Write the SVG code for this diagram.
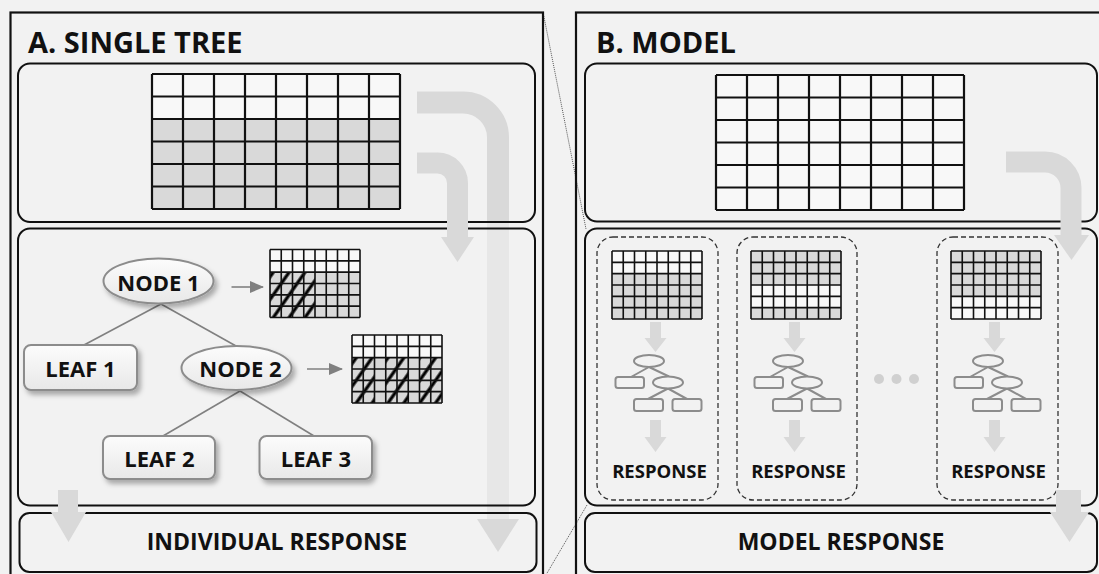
<svg xmlns="http://www.w3.org/2000/svg" xmlns:xlink="http://www.w3.org/1999/xlink" width="1099" height="574" viewBox="0 0 1099 574">
  <style>
    .panel { fill: none; stroke: #111; stroke-width: 2.2; }
    .box { fill: none; stroke: #111; stroke-width: 2; }
    .title { font-family: "Open Sans", "Liberation Sans", sans-serif; font-weight: 700; font-size: 29px; fill: #111; }
    .label { font-family: "Open Sans", "Liberation Sans", sans-serif; font-weight: 700; font-size: 22px; fill: #111; text-anchor: middle; }
    .resp { font-family: "Open Sans", "Liberation Sans", sans-serif; font-weight: 700; font-size: 23px; fill: #111; text-anchor: middle; }
    .small { font-family: "Open Sans", "Liberation Sans", sans-serif; font-weight: 700; font-size: 18.5px; fill: #111; text-anchor: middle; }
    .flow { fill: none; stroke: #d9d9d9; }
    .head { fill: #d9d9d9; }
    .shape { fill: url(#nodeFill); stroke: #8c8c8c; stroke-width: 2; filter: url(#soft); }
    .edge { stroke: #808080; stroke-width: 1.6; fill: none; }
    .gl { fill: none; stroke: #111; stroke-width: 2.2; }
    .sgl { fill: none; stroke: #111; stroke-width: 1.6; }
    .wcell { fill: #f8f8f8; }
    .gcell { fill: #d9d9d9; }
    .hatch { fill: url(#hatchPat); }
    .mini { fill: #f2f2f2; stroke: #8c8c8c; stroke-width: 2; }
    .miniedge { stroke: #8c8c8c; stroke-width: 2; fill: none; }
    .dashbox { fill: none; stroke: #333; stroke-width: 1.3; stroke-dasharray: 5 3; }
    .callout { stroke: #555; stroke-width: 1; stroke-dasharray: 1 1; fill: none; }
  </style>
  <defs>
    <linearGradient id="nodeFill" x1="0" y1="0" x2="0" y2="1">
      <stop offset="0" stop-color="#fcfcfc"/>
      <stop offset="1" stop-color="#e8e8e8"/>
    </linearGradient>
    <filter id="soft" x="-20%" y="-30%" width="150%" height="180%">
      <feDropShadow dx="3" dy="4" stdDeviation="2.5" flood-color="#000" flood-opacity="0.3"/>
    </filter>
    <pattern id="hatchPat" width="13" height="13" patternUnits="userSpaceOnUse" patternTransform="rotate(35)">
      <line x1="3" y1="0" x2="3" y2="13" stroke="#000" stroke-width="3.2"/>
    </pattern>
    <marker id="tip" markerWidth="14" markerHeight="12" refX="13" refY="6" orient="auto" markerUnits="userSpaceOnUse">
      <path d="M0,0 L14,6 L0,12 z" fill="#808080"/>
    </marker>
    <!-- 8 x 6 lattice used by every small table -->
    <path id="sgridLines" class="sgl" d="M0,0V68M11.25,0V68M22.5,0V68M33.75,0V68M45,0V68M56.25,0V68M67.5,0V68M78.75,0V68M90,0V68M0,0H90M0,11.33H90M0,22.67H90M0,34H90M0,45.33H90M0,56.67H90M0,68H90"/>
    <!-- miniature tree drawn inside each dashed sample -->
    <g id="miniTree">
      <path class="head" d="M650,322H661V338H666.5L655.5,352L644.5,338H650Z"/>
      <path class="miniedge" d="M649,367L631,377M649,367L669,376.5M668,388.5L648,399M668,388.5L687,399"/>
      <ellipse class="mini" cx="649" cy="361" rx="15" ry="6"/>
      <rect class="mini" x="615.5" y="377" width="28.5" height="11" rx="2.5"/>
      <ellipse class="mini" cx="668" cy="382.5" rx="15" ry="6"/>
      <rect class="mini" x="634" y="399" width="29" height="12" rx="2.5"/>
      <rect class="mini" x="672.5" y="399" width="29" height="12" rx="2.5"/>
      <path class="head" d="M650,420H661V437H666.5L655.5,452L644.5,437H650Z"/>
      <text class="small" x="659.5" y="477.5">RESPONSE</text>
    </g>
  </defs>

  <rect width="1099" height="574" fill="#f2f2f2"/>

  <!-- zoom callout lines between the two panels -->
  <g id="callouts">
    <path class="callout" d="M543,12L586,229"/>
    <path class="callout" d="M587,505L543,580"/>
  </g>

  <!-- ===== Panel A: single tree ===== -->
  <g id="panel-a">
    <rect class="panel" x="10.5" y="12.5" width="532.5" height="600"/>
    <text class="title" x="28" y="53">A. SINGLE TREE</text>

    <!-- long flow arrow runs behind the stage boxes -->
    <path class="flow" stroke-width="22" d="M417,102.5H463A35,35 0 0 1 498,137.5V221"/>
    <path fill="#e7e7e7" d="M487,221H509V519H487Z"/>
    <path class="head" d="M477,519H519L498,552Z"/>

    <g id="a-data">
      <rect class="box" x="18" y="63.5" width="517" height="158.5" rx="12"/>
      <rect class="wcell" x="152" y="74" width="248" height="45"/>
      <rect class="gcell" x="152" y="119" width="248" height="90"/>
      <path class="gl" d="M152,74V209M183,74V209M214,74V209M245,74V209M276,74V209M307,74V209M338,74V209M369,74V209M400,74V209M152,74H400M152,96.5H400M152,119H400M152,141.5H400M152,164H400M152,186.5H400M152,209H400"/>
    </g>

    <g id="a-tree">
      <rect class="box" x="18" y="228.5" width="517" height="277" rx="12"/>
    </g>

    <g id="a-result">
      <rect class="box" x="19.5" y="513" width="517" height="59" rx="10"/>
      <text class="resp" x="277" y="550">INDIVIDUAL RESPONSE</text>
    </g>

    <!-- inner arrow into the tree stage -->
    <path class="flow" stroke-width="21" d="M417,163H437.5A20,20 0 0 1 457.5,183V237"/>
    <path class="head" d="M441,237H474L457.5,262Z"/>
    <!-- short arrow into the response -->
    <path class="head" d="M58,490H78V512H86L68.5,542L51,512H58Z"/>

    <g id="connectors">
      <path class="edge" d="M161,304L84,345"/>
      <path class="edge" d="M161,304L236,346"/>
      <path class="edge" d="M240,391L163,436"/>
      <path class="edge" d="M240,391L314,436"/>
      <path class="edge" d="M231.5,287H263" marker-end="url(#tip)"/>
      <path class="edge" d="M307,369H342" marker-end="url(#tip)"/>
    </g>

    <g id="node-1">
      <ellipse class="shape" cx="158.5" cy="281" rx="55" ry="22.5"/>
      <text class="label" x="158.5" y="291">NODE 1</text>
    </g>
    <g id="leaf-1">
      <rect class="shape" x="24" y="345" width="113" height="45" rx="7"/>
      <text class="label" x="80.5" y="377">LEAF 1</text>
    </g>
    <g id="node-2">
      <ellipse class="shape" cx="236.5" cy="368" rx="55" ry="22"/>
      <text class="label" x="240.5" y="377">NODE 2</text>
    </g>
    <g id="leaf-2">
      <rect class="shape" x="103" y="436" width="112" height="43" rx="7"/>
      <text class="label" x="159.5" y="467">LEAF 2</text>
    </g>
    <g id="leaf-3">
      <rect class="shape" x="259.5" y="436" width="112.5" height="43" rx="7"/>
      <text class="label" x="316" y="467">LEAF 3</text>
    </g>

    <g id="split-1">
      <rect class="wcell" x="270" y="249.5" width="90" height="22.67"/>
      <rect class="gcell" x="270" y="272.17" width="90" height="45.33"/>
      <rect class="hatch" x="270" y="272.17" width="45" height="45.33"/>
      <use href="#sgridLines" x="270" y="249.5"/>
    </g>
    <g id="split-2">
      <rect class="wcell" x="352" y="335" width="90" height="22.67"/>
      <rect class="gcell" x="352" y="357.67" width="90" height="45.33"/>
      <rect class="hatch" x="352" y="357.67" width="22.5" height="45.33"/>
      <rect class="hatch" x="385.75" y="357.67" width="22.5" height="45.33"/>
      <rect class="hatch" x="419.5" y="357.67" width="22.5" height="45.33"/>
      <use href="#sgridLines" x="352" y="335"/>
    </g>
  </g>

  <!-- ===== Panel B: model ===== -->
  <g id="panel-b">
    <rect class="panel" x="576" y="12.5" width="540" height="600"/>
    <text class="title" x="596" y="53">B. MODEL</text>

    <g id="b-data">
      <rect class="box" x="585" y="63.5" width="512" height="158" rx="12"/>
      <rect class="wcell" x="716" y="75" width="248" height="135"/>
      <path class="gl" d="M716,75V210M747,75V210M778,75V210M809,75V210M840,75V210M871,75V210M902,75V210M933,75V210M964,75V210M716,75H964M716,97.5H964M716,120H964M716,142.5H964M716,165H964M716,187.5H964M716,210H964"/>
    </g>

    <g id="b-ensemble">
      <rect class="box" x="585" y="228.5" width="512" height="277" rx="12"/>
    </g>

    <g id="sample-1">
      <rect class="dashbox" x="597" y="237" width="121" height="263" rx="16"/>
      <rect class="wcell" x="612" y="251" width="90" height="22.67"/>
      <rect class="gcell" x="612" y="273.67" width="90" height="45.33"/>
      <use href="#sgridLines" x="612" y="251"/>
      <use href="#miniTree"/>
    </g>
    <g id="sample-2">
      <rect class="dashbox" x="737" y="237" width="120" height="263" rx="16"/>
      <rect class="gcell" x="751" y="251" width="90" height="34"/>
      <rect class="wcell" x="751" y="285" width="90" height="22.67"/>
      <rect class="gcell" x="751" y="307.67" width="90" height="11.33"/>
      <use href="#sgridLines" x="751" y="251"/>
      <use href="#miniTree" x="139"/>
    </g>
    <g id="ellipsis">
      <circle cx="879" cy="379" r="5" fill="#d0d0d0"/>
      <circle cx="896.5" cy="379" r="5" fill="#d0d0d0"/>
      <circle cx="914" cy="379" r="5" fill="#d0d0d0"/>
    </g>
    <g id="sample-3">
      <rect class="dashbox" x="937" y="237" width="121" height="263" rx="16"/>
      <rect class="gcell" x="951" y="251" width="90" height="45.33"/>
      <rect class="wcell" x="951" y="296.33" width="90" height="22.67"/>
      <use href="#sgridLines" x="951" y="251"/>
      <use href="#miniTree" x="339"/>
    </g>

    <g id="b-result">
      <rect class="box" x="585" y="513" width="512" height="59" rx="10"/>
      <text class="resp" x="841" y="550">MODEL RESPONSE</text>
    </g>

    <path class="flow" stroke-width="21" d="M1006,162H1045A26,26 0 0 1 1071,188V235"/>
    <path class="head" d="M1054,235H1089L1071.5,260Z"/>
    <path class="head" d="M1056,490H1081V512H1089L1069.5,542L1050,512H1056Z"/>
  </g>
</svg>
